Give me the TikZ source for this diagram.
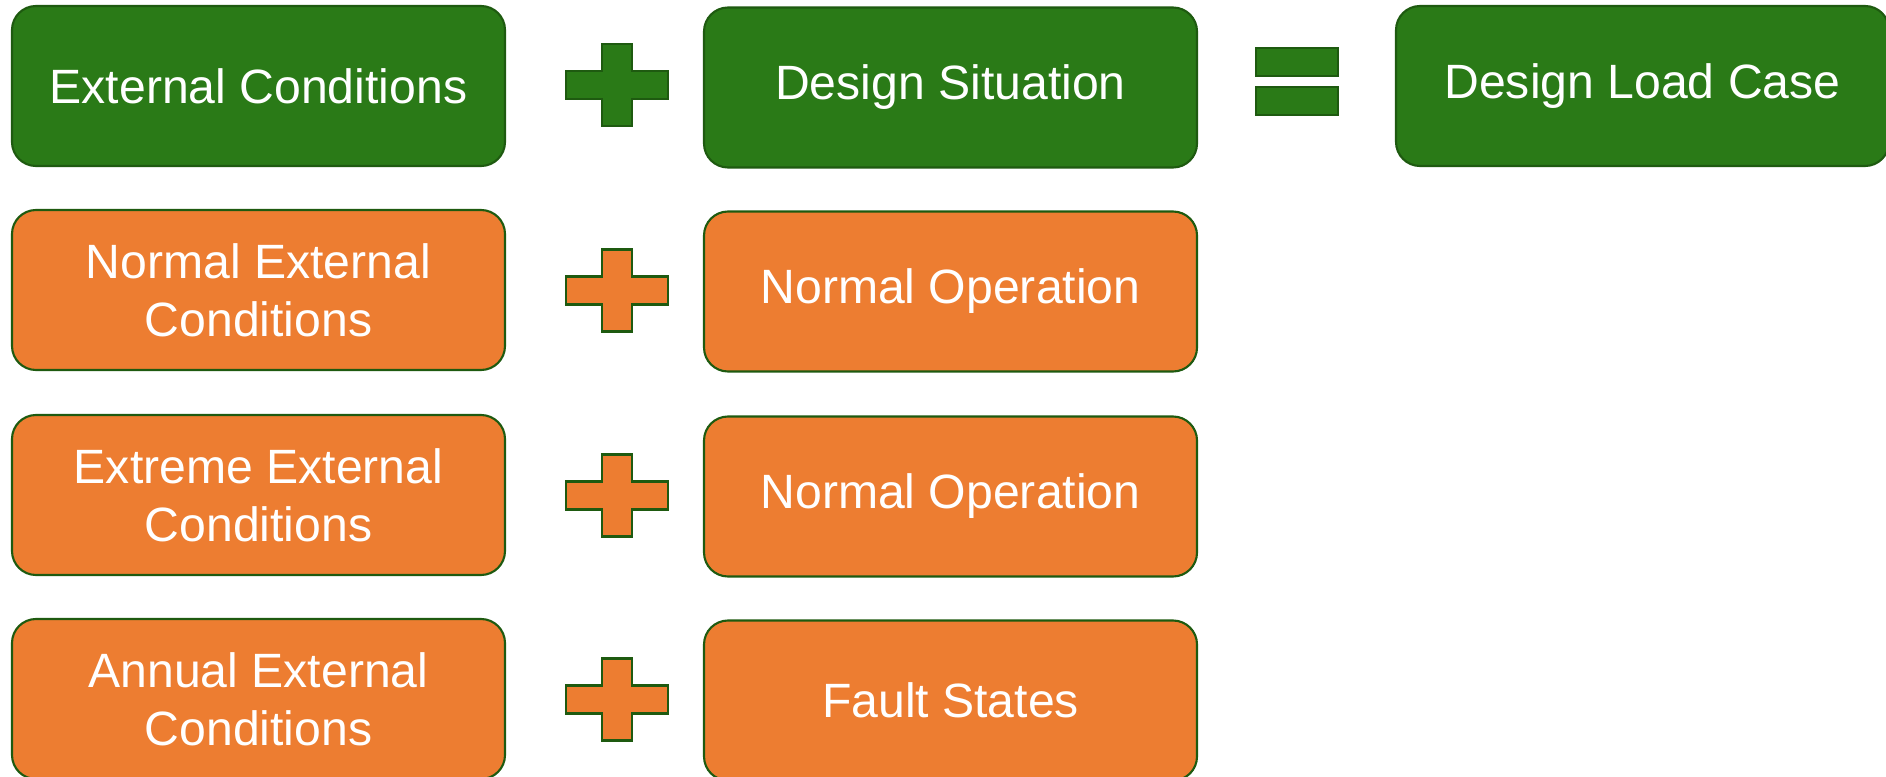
\documentclass[tikz,border=0pt]{standalone}
\usepackage{fontspec}
\setmainfont{Liberation Sans}
\usepackage{tikz}
\usetikzlibrary{positioning}
\definecolor{dlcgreen}{RGB}{42,122,23}
\definecolor{dlcline}{RGB}{30,90,16}
\definecolor{dlcorange}{RGB}{237,125,49}

\tikzset{
  box/.style={draw=dlcline, line width=0.6pt, rounded corners=0.24cm, minimum width=4.93cm, minimum height=1.60cm, align=center, text=white, font=\fontsize{13.7}{16.6}\selectfont},
  greenbox/.style={box, fill=dlcgreen},
  orangebox/.style={box, fill=dlcorange},
  plussign/.pic={
    \draw[pic actions] (-0.51,-0.14) -- (-0.15,-0.14) -- (-0.15,-0.41) -- (0.15,-0.41) -- (0.15,-0.14) -- (0.51,-0.14) -- (0.51,0.14) -- (0.15,0.14) -- (0.15,0.41) -- (-0.15,0.41) -- (-0.15,0.14) -- (-0.51,0.14) -- cycle;
  }
}

\begin{document}
\begin{tikzpicture}
\useasboundingbox (0,0) rectangle (18.86,-7.77);
% first row
\node[greenbox] (ec) at (2.585,-0.86) {External Conditions};
\node[greenbox] (ds) at (9.505,-0.875) {Design Situation};
\node[greenbox] (dlc) at (16.425,-0.86) {Design Load Case};
\pic[draw=dlcline, fill=dlcgreen, line width=0.6pt] at (6.17,-0.85) {plussign};
\draw[draw=dlcline, fill=dlcgreen, line width=0.6pt] (12.56,-0.48) rectangle (13.38,-0.76);
\draw[draw=dlcline, fill=dlcgreen, line width=0.6pt] (12.56,-0.87) rectangle (13.38,-1.15);
% combinations
\node[orangebox] (nec) at (2.585,-2.90) {Normal External\\Conditions};
\node[orangebox] (no1) at (9.505,-2.915) {Normal Operation};
\pic[draw=dlcline, fill=dlcorange, line width=0.6pt] at (6.17,-2.905) {plussign};
\node[orangebox] (eec) at (2.585,-4.95) {Extreme External\\Conditions};
\node[orangebox] (no2) at (9.505,-4.965) {Normal Operation};
\pic[draw=dlcline, fill=dlcorange, line width=0.6pt] at (6.17,-4.955) {plussign};
\node[orangebox] (aec) at (2.585,-6.99) {Annual External\\Conditions};
\node[orangebox] (fs) at (9.505,-7.005) {Fault States};
\pic[draw=dlcline, fill=dlcorange, line width=0.6pt] at (6.17,-6.995) {plussign};
\end{tikzpicture}
\end{document}
